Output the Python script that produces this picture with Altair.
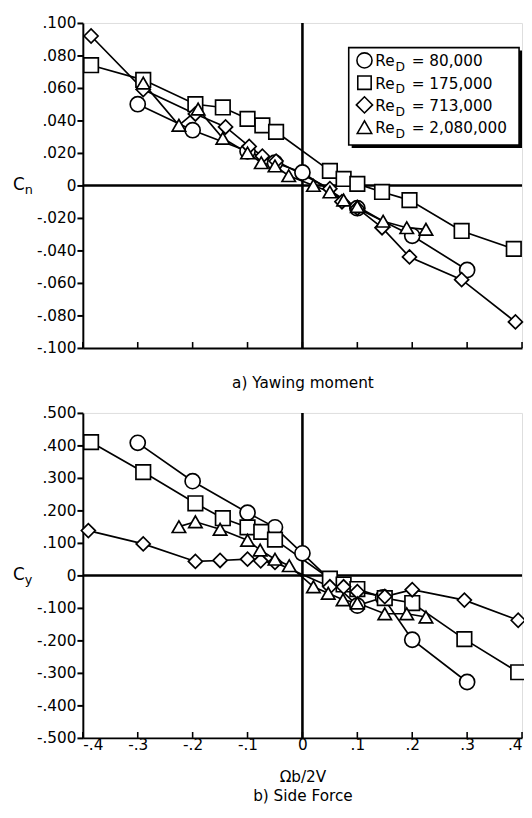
import altair as alt
import pandas as pd

FONT = "DejaVu Sans"

# ---------------- data ----------------
series = ["80,000", "175,000", "713,000", "2,080,000"]
shapes = ["circle", "square", "diamond", "triangle-up"]
sizes = [235, 185, 270, 215]

# a) Yawing moment, C_n vs Omega b / 2V
cn_circle_x = [-0.30, -0.20, -0.10, -0.05, 0.00, 0.10, 0.20, 0.30]
cn_circle_y = [0.050, 0.034, 0.021, 0.014, 0.008, -0.014, -0.031, -0.052]
cn_square_x = [-0.385, -0.29, -0.195, -0.145, -0.10, -0.073, -0.048, 0.05, 0.075, 0.10, 0.145, 0.195, 0.29, 0.385]
cn_square_y = [0.074, 0.065, 0.050, 0.048, 0.041, 0.037, 0.033, 0.009, 0.004, 0.001, -0.004, -0.009, -0.028, -0.039]
cn_diamond_x = [-0.385, -0.29, -0.195, -0.14, -0.097, -0.073, -0.048, 0.05, 0.072, 0.10, 0.145, 0.195, 0.29, 0.388]
cn_diamond_y = [0.092, 0.059, 0.044, 0.036, 0.024, 0.018, 0.015, -0.002, -0.010, -0.014, -0.026, -0.044, -0.058, -0.084]
cn_triangle_x = [-0.29, -0.225, -0.19, -0.145, -0.10, -0.075, -0.05, -0.025, 0.02, 0.05, 0.075, 0.10, 0.147, 0.19, 0.225]
cn_triangle_y = [0.063, 0.037, 0.047, 0.029, 0.020, 0.014, 0.012, 0.006, 0.000, -0.004, -0.009, -0.013, -0.022, -0.026, -0.027]

# b) Side force, C_y vs Omega b / 2V
cy_circle_x = [-0.30, -0.20, -0.10, -0.05, 0.00, 0.10, 0.147, 0.20, 0.30]
cy_circle_y = [0.408, 0.290, 0.193, 0.148, 0.068, -0.093, -0.068, -0.198, -0.328]
cy_square_x = [-0.385, -0.29, -0.195, -0.145, -0.10, -0.075, -0.05, 0.05, 0.075, 0.10, 0.15, 0.20, 0.295, 0.393]
cy_square_y = [0.410, 0.318, 0.222, 0.176, 0.148, 0.134, 0.110, -0.010, -0.028, -0.042, -0.070, -0.085, -0.196, -0.298]
cy_diamond_x = [-0.39, -0.29, -0.195, -0.15, -0.10, -0.076, -0.05, 0.05, 0.075, 0.10, 0.15, 0.20, 0.295, 0.393]
cy_diamond_y = [0.138, 0.097, 0.043, 0.046, 0.050, 0.045, 0.040, -0.035, -0.035, -0.050, -0.065, -0.044, -0.076, -0.138]
cy_triangle_x = [-0.225, -0.195, -0.15, -0.10, -0.077, -0.05, -0.024, 0.02, 0.047, 0.074, 0.10, 0.15, 0.19, 0.225]
cy_triangle_y = [0.150, 0.165, 0.142, 0.108, 0.078, 0.050, 0.030, -0.035, -0.055, -0.075, -0.085, -0.118, -0.118, -0.128]

x_ticks = [-0.4, -0.3, -0.2, -0.1, 0.0, 0.1, 0.2, 0.3, 0.4]
cn_ticks = [-0.10, -0.08, -0.06, -0.04, -0.02, 0.0, 0.02, 0.04, 0.06, 0.08, 0.10]
cy_ticks = [-0.5, -0.4, -0.3, -0.2, -0.1, 0.0, 0.1, 0.2, 0.3, 0.4, 0.5]


def long_df(xs_list, ys_list):
    rows = []
    for s, xs, ys in zip(series, xs_list, ys_list):
        for i, (xv, yv) in enumerate(zip(xs, ys)):
            rows.append({"series": s, "x": xv, "y": yv, "i": i})
    return pd.DataFrame(rows)


df_cn = long_df([cn_circle_x, cn_square_x, cn_diamond_x, cn_triangle_x],
                [cn_circle_y, cn_square_y, cn_diamond_y, cn_triangle_y])
df_cy = long_df([cy_circle_x, cy_square_x, cy_diamond_x, cy_triangle_x],
                [cy_circle_y, cy_square_y, cy_diamond_y, cy_triangle_y])

# ---------------- layout ----------------
W, H = 446, 330
FS = 15.5
one = pd.DataFrame({"a": [0]})

x_label_expr = ("datum.value == 0 ? '0' : (datum.value < 0 ? '-' : '') + "
                "replace(format(abs(datum.value), '.1f'), '0.', '.')")
y_label_expr = ("datum.value == 0 ? '0' : (datum.value < 0 ? '-' : '') + "
                "replace(format(abs(datum.value), '.3f'), '0.', '.')")


def panel(df, ydom, yticks, sub, xtitle, show_labels, with_legend):
    xscale = alt.Scale(domain=[-0.4, 0.4], nice=False, zero=False)
    yscale = alt.Scale(domain=ydom, nice=False, zero=False)
    xaxis = alt.Axis(values=x_ticks, grid=False, ticks=False, tickSize=0,
                     labels=show_labels, labelExpr=x_label_expr, labelOverlap=False,
                     labelFont=FONT, labelFontSize=FS, labelColor="black",
                     labelPadding=0,
                     domainColor="black", domainWidth=2,
                     title=xtitle, titleFont=FONT, titleFontSize=FS,
                     titleFontWeight="normal", titleColor="black",
                     titlePadding=(28 if not show_labels else 17),
                     titleLineHeight=19)
    yaxis = alt.Axis(values=yticks, grid=False, tickColor="black", tickWidth=2,
                     tickSize=6, labelExpr=y_label_expr, labelOverlap=False,
                     labelFont=FONT, labelFontSize=FS, labelColor="black",
                     labelPadding=1, domainColor="black", domainWidth=2,
                     title=None)
    X = lambda f: alt.X(f, scale=xscale, axis=xaxis)
    Y = lambda f: alt.Y(f, scale=yscale, axis=yaxis)

    base = alt.Chart(df)
    lines = base.mark_line(color="black", strokeWidth=1.7).encode(
        x=X("x:Q"), y=Y("y:Q"), detail="series:N", order="i:Q")
    points = base.mark_point(filled=True, fill="white", stroke="black",
                             strokeWidth=1.7, opacity=1, fillOpacity=1).encode(
        x=X("x:Q"), y=Y("y:Q"),
        shape=alt.Shape("series:N", scale=alt.Scale(domain=series, range=shapes), legend=None),
        size=alt.Size("series:N", scale=alt.Scale(domain=series, range=sizes), legend=None),
    )
    zero = pd.DataFrame({"x": [0.0], "y": [0.0]})
    hzero = alt.Chart(zero).mark_rule(color="black", strokeWidth=2.6).encode(y=Y("y:Q"))
    vzero = alt.Chart(zero).mark_rule(color="black", strokeWidth=2.6).encode(x=X("x:Q"))
    tick_df = pd.DataFrame({"x": x_ticks})
    inticks = alt.Chart(tick_df).mark_rule(color="black", strokeWidth=1.6).encode(
        x=X("x:Q"), y=alt.value(H), y2=alt.value(H - 6))
    ctext = alt.Chart(one).mark_text(text="C", font=FONT, fontSize=17, align="left",
                                     baseline="alphabetic", color="black").encode(
        x=alt.value(-71), y=alt.value(H / 2 + 5))
    stext = alt.Chart(one).mark_text(text=sub, font=FONT, fontSize=13, align="left",
                                     baseline="alphabetic", color="black").encode(
        x=alt.value(-59), y=alt.value(H / 2 + 9))
    layers = [lines, hzero, vzero, inticks, points, ctext, stext]

    if with_legend:
        bx1, bx2, by1, by2 = W - 176, W - 3, 25, 124
        layers.append(alt.Chart(one).mark_rect(color="black").encode(
            x=alt.value(bx1 + 3), x2=alt.value(bx2 + 3),
            y=alt.value(by1 + 3), y2=alt.value(by2 + 3)))
        layers.append(alt.Chart(one).mark_rect(fill="white", stroke="black",
                                               strokeWidth=1.6).encode(
            x=alt.value(bx1), x2=alt.value(bx2), y=alt.value(by1), y2=alt.value(by2)))
        for k, (s, shp) in enumerate(zip(series, shapes)):
            yc = 38 + k * 22.6
            layers.append(alt.Chart(one).mark_point(
                shape=shp, size=sizes[k], filled=True, fill="white", stroke="black",
                strokeWidth=1.6, opacity=1).encode(x=alt.value(W - 160), y=alt.value(yc)))
            layers.append(alt.Chart(one).mark_text(
                text="Re", font=FONT, fontSize=FS, align="left", baseline="alphabetic",
                color="black").encode(x=alt.value(W - 149), y=alt.value(yc + 6)))
            layers.append(alt.Chart(one).mark_text(
                text="D", font=FONT, fontSize=12.5, align="left", baseline="alphabetic",
                color="black").encode(x=alt.value(W - 128.5), y=alt.value(yc + 11)))
            layers.append(alt.Chart(one).mark_text(
                text="= " + s, font=FONT, fontSize=FS, align="left", baseline="alphabetic",
                color="black").encode(x=alt.value(W - 112), y=alt.value(yc + 6)))

    return alt.layer(*layers).properties(width=W, height=H)


top = panel(df_cn, [-0.1, 0.1], cn_ticks, "n", "a) Yawing moment", False, True)
bottom = panel(df_cy, [-0.5, 0.5], cy_ticks, "y", ["\u03a9b/2V", "b) Side Force"], True, False)

chart = alt.vconcat(top, bottom, spacing=14).properties(
    padding={"left": 4, "top": 1, "right": -6, "bottom": -2}
).configure_view(stroke=None).configure_axis(labelOverlap=False).configure(background="white")

chart.save("out.html", embed_options={"renderer": "svg", "actions": False})
